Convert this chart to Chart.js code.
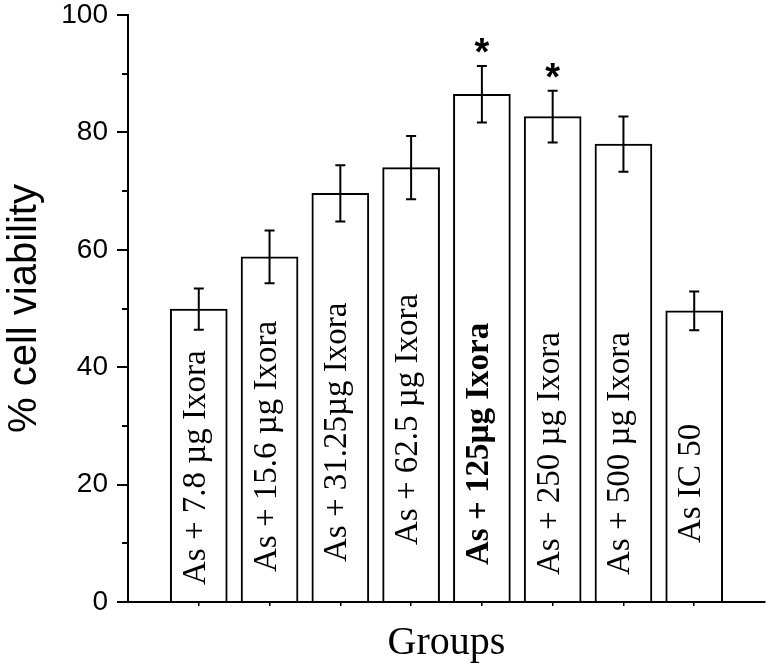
<!DOCTYPE html>
<html>
<head>
<meta charset="utf-8">
<script src="https://cdn.jsdelivr.net/npm/chart.js@4/dist/chart.umd.min.js"></script>
<style>
    html, body { margin: 0; padding: 0; background: #ffffff; }
    #wrap { width: 771px; height: 671px; position: relative; }
</style>
</head>
<body>
<div id="wrap"><canvas id="viabilityChart"></canvas></div>
<script>
// values
const groups = [
    "As + 7.8 µg Ixora",
    "As + 15.6 µg Ixora",
    "As + 31.25µg Ixora",
    "As + 62.5 µg Ixora",
    "As + 125µg Ixora",
    "As + 250 µg Ixora",
    "As + 500 µg Ixora",
    "As IC 50"
];
const viability = [49.9, 58.8, 69.6, 74.0, 86.5, 82.7, 78.0, 49.6];
const errors = [3.5, 4.5, 4.8, 5.4, 4.8, 4.4, 4.7, 3.3];
const marks = ["", "", "", "", "*", "*", "", ""];
const yTicks = [0, 20, 40, 60, 80, 100];

// empty slots at both ends so the bars sit one step in from the axis ends
const labels = [""].concat(groups, [""]);
const values = [null].concat(viability, [null]);

// label text inside the bars: lift above the axis (px) and weight
const labelLift = [17, 30, 40, 57, 37, 27, 27, 59];
const labelBold = [false, false, false, false, true, false, false, false];

const barExtras = {
    id: "barExtras",
    afterDatasetsDraw: function (chart) {
        const ctx = chart.ctx;
        const x = chart.scales.x;
        const y = chart.scales.y;
        ctx.save();
        ctx.strokeStyle = "#000";
        ctx.fillStyle = "#000";
        ctx.lineWidth = 2;
        groups.forEach(function (name, i) {
            const cx = x.getPixelForValue(i + 1);
            const top = y.getPixelForValue(viability[i] + errors[i]);
            const bot = y.getPixelForValue(viability[i] - errors[i]);

            // error bar
            ctx.beginPath();
            ctx.moveTo(cx, top);
            ctx.lineTo(cx, bot);
            ctx.moveTo(cx - 5, top);
            ctx.lineTo(cx + 5, top);
            ctx.moveTo(cx - 5, bot);
            ctx.lineTo(cx + 5, bot);
            ctx.stroke();

            // significance mark
            if (marks[i]) {
                ctx.font = "bold 38px 'Liberation Sans'";
                ctx.textAlign = "center";
                ctx.textBaseline = "alphabetic";
                ctx.fillText(marks[i], cx, top - 1);
            }

            // vertical group name inside the bar
            ctx.save();
            ctx.translate(cx + 6, y.getPixelForValue(0) - labelLift[i]);
            ctx.rotate(-Math.PI / 2);
            ctx.font = (labelBold[i] ? "bold " : "") + "33px 'Liberation Serif'";
            ctx.textAlign = "left";
            ctx.textBaseline = "alphabetic";
            ctx.fillText(name, 0, 0);
            ctx.restore();
        });
        ctx.restore();
    }
};

new Chart(document.getElementById("viabilityChart"), {
    type: "bar",
    data: {
        labels: labels,
        datasets: [{
            label: "% cell viability",
            data: values,
            backgroundColor: "#ffffff",
            borderColor: "#000000",
            borderWidth: 2,
            borderSkipped: "bottom",
            barThickness: 57
        }]
    },
    options: {
        responsive: true,
        maintainAspectRatio: false,
        animation: false,
        layout: {
            padding: { top: 15, right: 6, bottom: 0, left: 0 }
        },
        plugins: {
            legend: { display: false },
            tooltip: { enabled: false }
        },
        scales: {
            x: {
                type: "category",
                offset: false,
                afterFit: function (scale) { scale.height = 69; },
                border: { color: "#000", width: 2 },
                grid: {
                    offset: false,
                    drawOnChartArea: false,
                    tickLength: 4,
                    lineWidth: 1.5,
                    tickColor: function (c) {
                        return (c.index === 0 || c.index === labels.length - 1) ? "rgba(0,0,0,0)" : "#000";
                    }
                },
                ticks: { display: false },
                title: {
                    display: true,
                    text: "Groups",
                    color: "#000",
                    font: { family: "'Liberation Serif'", size: 40 },
                    padding: { top: 0, bottom: 4 }
                }
            },
            y: {
                min: 0,
                max: 100,
                afterFit: function (scale) { scale.width = 128; },
                border: { color: "#000", width: 2 },
                grid: {
                    drawOnChartArea: false,
                    // long tick slot; the dash keeps only the part next to the axis
                    tickLength: 20,
                    lineWidth: 2,
                    tickColor: "#000",
                    tickBorderDash: function (c) {
                        const major = c.tick && yTicks.indexOf(c.tick.value) >= 0;
                        return major ? [0, 9, 40] : [0, 14, 40];
                    }
                },
                ticks: {
                    stepSize: 10,
                    padding: 0,
                    color: "#000",
                    font: { family: "'Liberation Sans'", size: 28, lineHeight: 1 },
                    callback: function (value) {
                        return yTicks.indexOf(value) >= 0 ? value : "";
                    }
                },
                title: {
                    display: true,
                    text: "% cell viability",
                    color: "#000",
                    font: { family: "'Liberation Sans'", size: 40 },
                    padding: { top: 1, bottom: 0 }
                }
            }
        }
    },
    plugins: [barExtras]
});
</script>
</body>
</html>
